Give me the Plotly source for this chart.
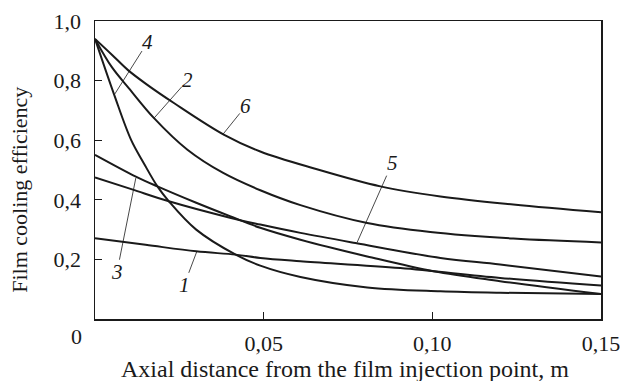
import plotly.graph_objects as go

# ---- data ----
c1_x = [0.0, 0.015, 0.030, 0.0417, 0.049, 0.0609, 0.0905, 0.1201, 0.15]
c1_y = [0.271, 0.249, 0.227, 0.216, 0.205, 0.194, 0.171, 0.138, 0.112]

c2_x = [0.0, 0.005, 0.010, 0.0175, 0.0274, 0.038, 0.049, 0.0609, 0.0807, 0.0994, 0.124, 0.15]
c2_y = [0.94, 0.845, 0.775, 0.674, 0.568, 0.490, 0.432, 0.382, 0.322, 0.292, 0.270, 0.257]

c3_x = [0.0, 0.0121, 0.0185, 0.030, 0.040, 0.049, 0.0609, 0.0807, 0.1004, 0.1201, 0.15]
c3_y = [0.551, 0.478, 0.445, 0.390, 0.345, 0.306, 0.266, 0.210, 0.160, 0.127, 0.084]

c4_x = [0.0, 0.0057, 0.0107, 0.0145, 0.0185, 0.0219, 0.030, 0.0417, 0.049, 0.0609,
        0.0807, 0.1024, 0.1201, 0.15]
c4_y = [0.94, 0.752, 0.601, 0.522, 0.445, 0.395, 0.300, 0.216, 0.179, 0.141,
        0.106, 0.093, 0.088, 0.084]

c5_x = [0.0, 0.011, 0.0219, 0.040, 0.049, 0.0609, 0.0772, 0.1024, 0.1201, 0.15]
c5_y = [0.475, 0.435, 0.395, 0.340, 0.317, 0.289, 0.255, 0.205, 0.183, 0.143]

c6_x = [0.0, 0.005, 0.0097, 0.015, 0.0235, 0.0383, 0.049, 0.065, 0.0846, 0.1024, 0.124, 0.15]
c6_y = [0.94, 0.887, 0.836, 0.790, 0.724, 0.618, 0.562, 0.505, 0.445, 0.411, 0.384, 0.358]

curve_names = ["1", "2", "3", "4", "5", "6"]
# label text position (tail) and leader target on the curve
label_x = [0.0264, 0.0275, 0.0065, 0.0157, 0.0881, 0.0447]
label_y = [0.113, 0.802, 0.157, 0.931, 0.523, 0.715]
target_x = [0.0302, 0.0175, 0.0121, 0.0057, 0.0777, 0.0378]
target_y = [0.227, 0.674, 0.473, 0.752, 0.257, 0.618]

x_ticks = [0.05, 0.10, 0.15]
x_ticklabels = ["0,05", "0,10", "0,15"]
y_ticks = [0.2, 0.4, 0.6, 0.8, 1.0]
y_ticklabels = ["0,2", "0,4", "0,6", "0,8", "1,0"]

FONT = "Liberation Serif"
INK = "#1a1a1a"

fig = go.Figure()
for xs, ys, nm in zip([c1_x, c2_x, c3_x, c4_x, c5_x, c6_x],
                      [c1_y, c2_y, c3_y, c4_y, c5_y, c6_y], curve_names):
    fig.add_trace(go.Scatter(x=xs, y=ys, mode="lines", name=nm,
                             line=dict(color=INK, width=2, shape="spline", smoothing=1.0),
                             showlegend=False, hoverinfo="skip"))

annotations = []
for nm, lx, ly, tx, ty in zip(curve_names, label_x, label_y, target_x, target_y):
    annotations.append(dict(x=tx, y=ty, ax=lx, ay=ly, xref="x", yref="y",
                            axref="x", ayref="y", text=nm, showarrow=True,
                            arrowhead=0, arrowwidth=0.8, arrowcolor=INK,
                            standoff=0, borderpad=0,
                            font=dict(family=FONT, size=21, color=INK, style="italic")))

annotations.append(dict(x=-0.0356, y=-0.0586, xref="paper", yref="paper", text="0",
                        showarrow=False, font=dict(family=FONT, size=22, color=INK),
                        xanchor="center", yanchor="middle"))
annotations.append(dict(x=0.495, y=-0.169, xref="paper", yref="paper",
                        text="Axial distance from the film injection point, m",
                        showarrow=False, font=dict(family=FONT, size=24, color=INK),
                        xanchor="center", yanchor="middle"))
annotations.append(dict(x=-0.148, y=0.434, xref="paper", yref="paper",
                        text="Film cooling efficiency", textangle=-90,
                        showarrow=False, font=dict(family=FONT, size=22, color=INK),
                        xanchor="center", yanchor="middle"))

fig.update_layout(
    template="none",
    width=622, height=381,
    margin=dict(l=95, r=21, t=21, b=61.5, autoexpand=False),
    paper_bgcolor="white", plot_bgcolor="white",
    annotations=annotations,
    font=dict(family=FONT, size=22, color=INK),
)
fig.update_xaxes(range=[0, 0.15], tickvals=x_ticks, ticktext=x_ticklabels,
                 ticks="inside", ticklen=7, tickwidth=1, tickcolor=INK,
                 showline=True, linecolor=INK, linewidth=1.5, mirror=True,
                 showgrid=False, zeroline=False, ticklabelstandoff=4, automargin=False,
                 tickfont=dict(family=FONT, size=22, color=INK))
fig.update_yaxes(range=[0, 1.0], tickvals=y_ticks, ticktext=y_ticklabels,
                 ticks="inside", ticklen=7, tickwidth=1, tickcolor=INK,
                 showline=True, linecolor=INK, linewidth=1.5, mirror=True,
                 showgrid=False, zeroline=False, ticklabelstandoff=8, automargin=False,
                 tickfont=dict(family=FONT, size=22, color=INK))

fig.write_html("out.html",
               config={"displayModeBar": False, "staticPlot": True},
               post_script="document.body.style.margin='0px';"
                           "document.body.style.padding='0px';"
                           "document.documentElement.style.overflow='hidden';")
